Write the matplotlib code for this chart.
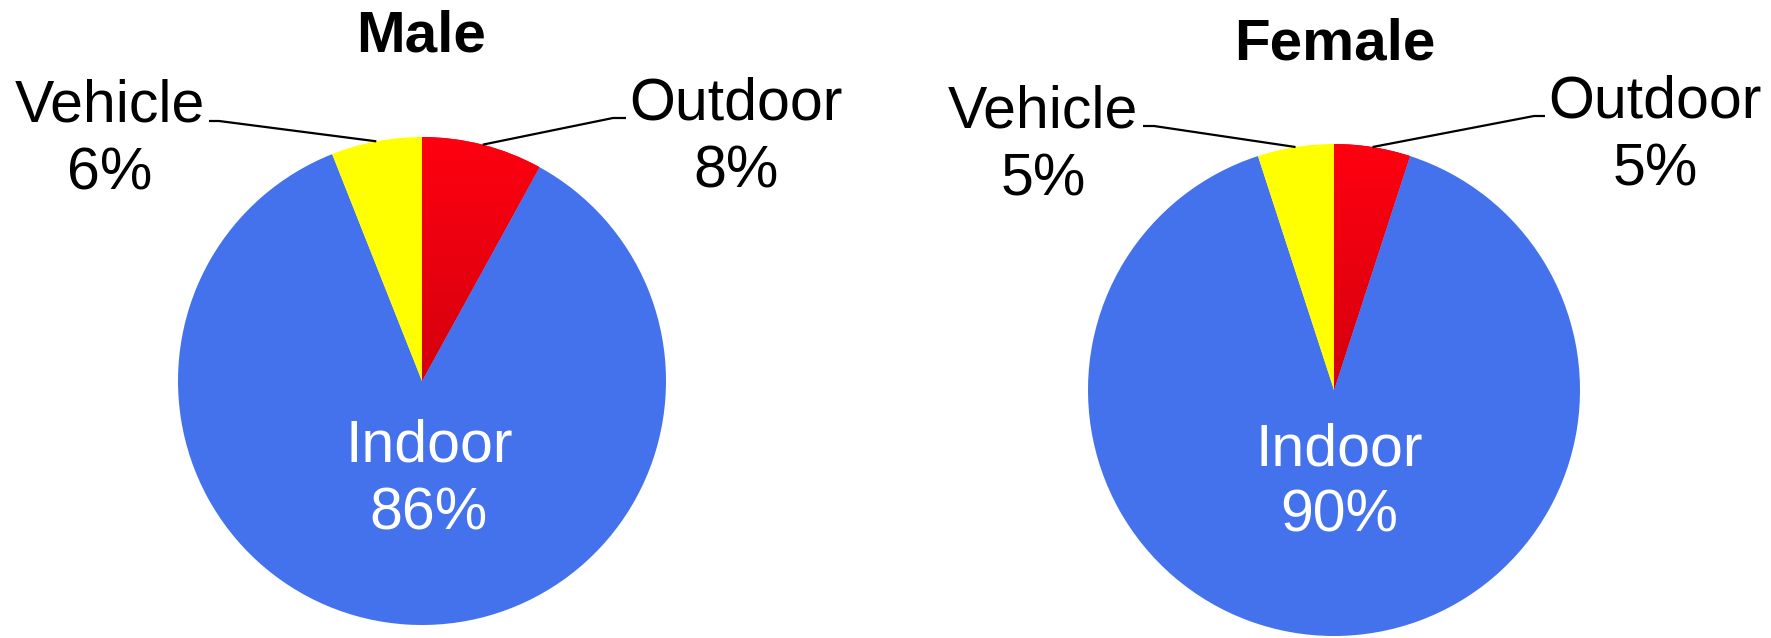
import numpy as np
import matplotlib
matplotlib.use("Agg")
import matplotlib.pyplot as plt
from matplotlib.colors import LinearSegmentedColormap

W, H = 1771, 638

groups = ["Male", "Female"]
categories = ["Outdoor", "Indoor", "Vehicle"]
male_values = [8, 86, 6]
female_values = [5, 90, 5]
values_by_group = [male_values, female_values]

colors = ["#FF0010", "#4472EC", "#FFFF00"]
red_dark = "#D4000E"

plt.rcParams['font.family'] = ['Liberation Sans', 'DejaVu Sans']

fig = plt.figure(figsize=(W / 100, H / 100), dpi=100)
ax = fig.add_axes([0, 0, 1, 1])
ax.set_xlim(0, W)
ax.set_ylim(0, H)
ax.set_aspect('equal')
ax.axis('off')


def Y(y):
    return H - y


# layout (pixel positions, image coords y down)
layout = [
    dict(cx=422, cy=381, r=244, title_x=421, title_base=52,
         out_x=736, out_b1=120, out_b2=188, out_stub=(626, 118), out_knee=(613, 118),
         veh_x=110, veh_b1=122, veh_b2=190, veh_stub=(209, 121), veh_knee=(219, 121),
         in_x=429, in_b1=462, in_b2=530),
    dict(cx=1334, cy=390, r=246, title_x=1335, title_base=60,
         out_x=1655, out_b1=117, out_b2=185, out_stub=(1545, 116), out_knee=(1534, 116),
         veh_x=1043, veh_b1=127, veh_b2=195, veh_stub=(1143, 126), veh_knee=(1154, 126),
         in_x=1339, in_b1=465, in_b2=532),
]

fs = 42.5

for g, vals, L in zip(groups, values_by_group, layout):
    cx, cy, r = L['cx'], Y(L['cy']), L['r']
    wedges, _ = ax.pie(vals, colors=colors, startangle=90, counterclock=False,
                       center=(cx, cy), radius=r, frame=True,
                       wedgeprops=dict(linewidth=0, antialiased=True))
    # vertical gradient on the outdoor wedge
    red = wedges[0]
    grad = np.linspace(0, 1, 256).reshape(-1, 1)
    cmap = LinearSegmentedColormap.from_list("rg", [colors[0], red_dark])
    im = ax.imshow(grad, cmap=cmap, extent=(cx - r, cx + r, cy, cy + r),
                   origin='upper', aspect='auto', zorder=red.get_zorder() + 0.1,
                   interpolation='bilinear')
    im.set_clip_path(red)

    total = sum(vals)
    # leader end points at wedge mid-angles
    a_out = np.deg2rad(90 - 360 * vals[0] / total / 2)
    a_veh = np.deg2rad(90 + 360 * vals[2] / total / 2)
    p_out = (cx + r * np.cos(a_out), cy + r * np.sin(a_out))
    p_veh = (cx + r * np.cos(a_veh), cy + r * np.sin(a_veh))

    ax.plot([L['out_stub'][0], L['out_knee'][0], p_out[0]],
            [Y(L['out_stub'][1]), Y(L['out_knee'][1]), p_out[1]],
            color='black', lw=1.6, solid_capstyle='butt', zorder=5)
    ax.plot([L['veh_stub'][0], L['veh_knee'][0], p_veh[0]],
            [Y(L['veh_stub'][1]), Y(L['veh_knee'][1]), p_veh[1]],
            color='black', lw=1.6, solid_capstyle='butt', zorder=5)

    # title
    ax.text(L['title_x'], Y(L['title_base']), g, ha='center', va='baseline',
            fontsize=42, fontweight='bold', color='black')
    # outdoor label
    ax.text(L['out_x'], Y(L['out_b1']), categories[0], ha='center', va='baseline',
            fontsize=fs, color='black')
    ax.text(L['out_x'], Y(L['out_b2']), f"{vals[0]}%", ha='center', va='baseline',
            fontsize=fs, color='black')
    # vehicle label
    ax.text(L['veh_x'], Y(L['veh_b1']), categories[2], ha='center', va='baseline',
            fontsize=fs, color='black')
    ax.text(L['veh_x'], Y(L['veh_b2']), f"{vals[2]}%", ha='center', va='baseline',
            fontsize=fs, color='black')
    # indoor label
    ax.text(L['in_x'], Y(L['in_b1']), categories[1], ha='center', va='baseline',
            fontsize=fs, color='white', zorder=6)
    ax.text(L['in_x'], Y(L['in_b2']), f"{vals[1]}%", ha='center', va='baseline',
            fontsize=fs, color='white', zorder=6)

ax.set_xlim(0, W)
ax.set_ylim(0, H)
ax.axis('off')
fig.savefig("out.png", dpi=100, facecolor='white')
